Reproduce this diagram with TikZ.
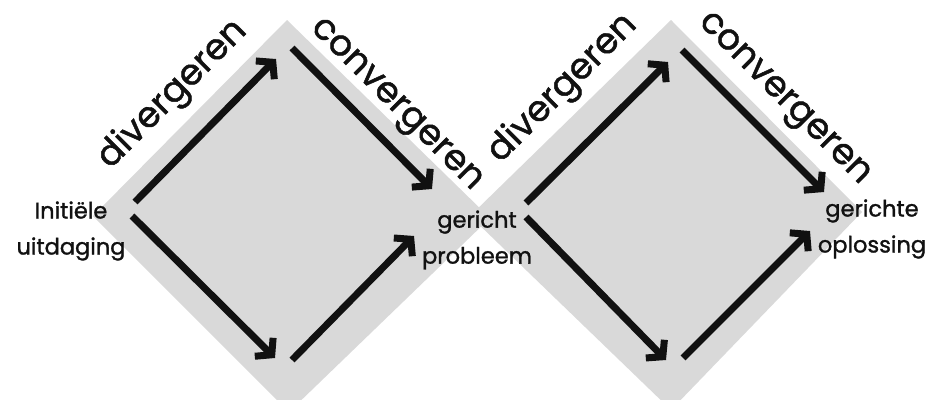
\documentclass[tikz,border=0pt]{standalone}
\usepackage{fontspec}
\setmainfont{Poppins}
\newfontfamily\labelfont{Poppins}[FakeBold=1.3]
\usetikzlibrary{arrows.meta}
\definecolor{panel}{HTML}{D9D9D9}
\definecolor{ink}{HTML}{111111}
\begin{document}
\begin{tikzpicture}[x=1pt,y=-1pt,
  phase/.style={fill=panel},
  flow/.style={draw=ink, line width=7pt, -{Straight Barb[length=11pt,width=26pt]}},
  stage/.style={font=\labelfont\fontsize{36}{40}\selectfont, text=ink, anchor=base, inner sep=0pt},
  point/.style={font=\labelfont\fontsize{22.5}{36}\selectfont, text=ink, align=center, inner sep=0pt}]
\useasboundingbox (0,0) rectangle (936,399);

% the two diamond-shaped phases
\fill[phase] (93,216) -- (287,20) -- (490,218) -- (289,412) -- cycle;
\fill[phase] (470,216) -- (671,20) -- (862,212) -- (671,410) -- cycle;

% arrow end points, first diamond
\coordinate (a1s) at (135,202); \coordinate (a1e) at (276,59);
\coordinate (a2s) at (292,48);  \coordinate (a2e) at (432,189);
\coordinate (a3s) at (132,216); \coordinate (a3e) at (275,358);
\coordinate (a4s) at (292,360); \coordinate (a4e) at (414,236);
% arrow end points, second diamond
\coordinate (b1s) at (526,203); \coordinate (b1e) at (668,62);
\coordinate (b2s) at (682,50);  \coordinate (b2e) at (824,192);
\coordinate (b3s) at (526,217); \coordinate (b3e) at (666,360);
\coordinate (b4s) at (683,358); \coordinate (b4e) at (810,231);

\draw[flow] (a1s) -- (a1e);
\draw[flow] (a2s) -- (a2e);
\draw[flow] (a3s) -- (a3e);
\draw[flow] (a4s) -- (a4e);
\draw[flow] (b1s) -- (b1e);
\draw[flow] (b2s) -- (b2e);
\draw[flow] (b3s) -- (b3e);
\draw[flow] (b4s) -- (b4e);

% phase names along the upper edges
\node[stage, rotate=45]  (div1) at (179,101) {divergeren};
\node[stage, rotate=-45] (con1) at (391,110) {convergeren};
\node[stage, rotate=45]  (div2) at (569,95)  {divergeren};
\node[stage, rotate=-45] (con2) at (779,104) {convergeren};

% start, intermediate and end points
\node[point] (start) at (71,231)  {Initiële\\uitdaging};
\node[point] (mid)   at (477,240) {gericht\\probleem};
\node[point] (end)   at (872,229) {gerichte\\oplossing};
\end{tikzpicture}
\end{document}
